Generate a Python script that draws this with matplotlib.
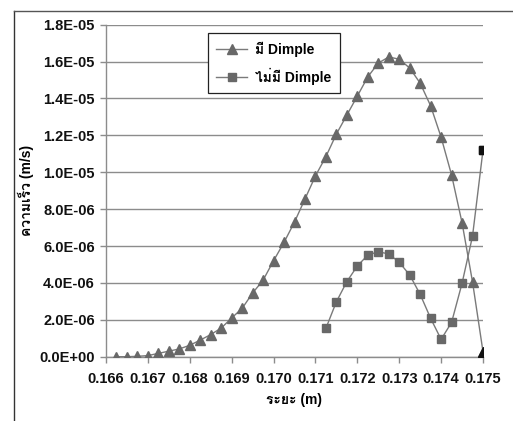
import matplotlib
matplotlib.use("Agg")
import matplotlib.pyplot as plt
from matplotlib import font_manager
from matplotlib.ft2font import FT2Font
from matplotlib.lines import Line2D

# Distance along the channel (m)
x_with = [0.16625, 0.16650, 0.16675, 0.16700, 0.16725, 0.16750, 0.16775, 0.16800,
          0.16825, 0.16850, 0.16875, 0.16900, 0.16925, 0.16950, 0.16975, 0.17000,
          0.17025, 0.17050, 0.17075, 0.17100, 0.17125, 0.17150, 0.17175, 0.17200,
          0.17225, 0.17250, 0.17275, 0.17300, 0.17325, 0.17350, 0.17375, 0.17400,
          0.17425, 0.17450, 0.17475, 0.17500]
# Velocity with dimples (m/s)
y_with = [0.0e-06, 0.0e-06, 0.02e-06, 0.06e-06, 0.18e-06, 0.30e-06, 0.42e-06, 0.62e-06,
          0.90e-06, 1.20e-06, 1.55e-06, 2.10e-06, 2.62e-06, 3.45e-06, 4.15e-06, 5.20e-06,
          6.20e-06, 7.30e-06, 8.55e-06, 9.80e-06, 10.85e-06, 12.07e-06, 13.10e-06, 14.13e-06,
          15.17e-06, 15.92e-06, 16.25e-06, 16.13e-06, 15.65e-06, 14.83e-06, 13.60e-06, 11.90e-06,
          9.85e-06, 7.26e-06, 4.05e-06, 0.27e-06]

x_without = [0.17125, 0.17150, 0.17175, 0.17200, 0.17225, 0.17250, 0.17275, 0.17300,
             0.17325, 0.17350, 0.17375, 0.17400, 0.17425, 0.17450, 0.17475, 0.17500]
# Velocity without dimples (m/s)
y_without = [1.54e-06, 2.98e-06, 4.07e-06, 4.92e-06, 5.51e-06, 5.69e-06, 5.57e-06, 5.12e-06,
             4.43e-06, 3.38e-06, 2.08e-06, 0.94e-06, 1.86e-06, 3.98e-06, 6.54e-06, 11.20e-06]

series_labels = ["มี Dimple", "ไม่มี Dimple"]
x_ticks = [0.166, 0.167, 0.168, 0.169, 0.170, 0.171, 0.172, 0.173, 0.174, 0.175]
x_tick_labels = ["0.166", "0.167", "0.168", "0.169", "0.170", "0.171", "0.172", "0.173", "0.174", "0.175"]
y_ticks = [0.0, 2e-06, 4e-06, 6e-06, 8e-06, 1.0e-05, 1.2e-05, 1.4e-05, 1.6e-05, 1.8e-05]
x_label = "ระยะ (m)"
y_label = "ความเร็ว (m/s)"


def thai_family():
    """Return the name of an installed font that covers Thai, if any."""
    for entry in font_manager.fontManager.ttflist:
        try:
            cmap = FT2Font(entry.fname).get_charmap()
        except Exception:
            continue
        if ord("ม") in cmap and ord("ไ") in cmap:
            return entry.name
    return None


families = ["Liberation Sans"]
thai = thai_family()
if thai:
    families.append(thai)
families.append("DejaVu Sans")
plt.rcParams["font.family"] = families

W, H = 513, 421
fig = plt.figure(figsize=(W / 100, H / 100), dpi=100)
fig.patch.set_facecolor("white")

left, right, top, bottom = 106, 483, 24.7, 356.7
ax = fig.add_axes([left / W, 1 - bottom / H, (right - left) / W, (bottom - top) / H])

line_col = "#7a7a7a"
mark_col = "#686868"
tri_size = 7
sq_size = 6

ax.plot(x_with, y_with, color=line_col, lw=1.0, marker="^", markersize=tri_size,
        markerfacecolor=mark_col, markeredgecolor=mark_col, zorder=3)
ax.plot(x_without, y_without, color=line_col, lw=1.0, marker="s", markersize=sq_size,
        markerfacecolor=mark_col, markeredgecolor=mark_col, zorder=3)
# end points drawn dark
ax.plot(x_with[-1:], y_with[-1:], ls="none", marker="^", markersize=tri_size, color="#111111", zorder=4)
ax.plot(x_without[-1:], y_without[-1:], ls="none", marker="s", markersize=sq_size, color="#111111", zorder=4)

ax.set_xlim(x_ticks[0], x_ticks[-1])
ax.set_ylim(y_ticks[0], y_ticks[-1])
ax.set_xticks(x_ticks)
ax.set_xticklabels(x_tick_labels)
ax.set_yticks(y_ticks)
ax.set_yticklabels(["%.1E" % v for v in y_ticks])

ax.yaxis.grid(True, color="#8c8c8c", lw=1.0)
ax.set_axisbelow(True)
for side in ("top", "right"):
    ax.spines[side].set_visible(False)
for side in ("left", "bottom"):
    ax.spines[side].set_color("#8c8c8c")
    ax.spines[side].set_linewidth(1.0)

ax.tick_params(axis="both", direction="out", length=4, width=1, color="#8c8c8c",
               labelsize=10.5, labelcolor="#111111")
for lab in ax.get_xticklabels() + ax.get_yticklabels():
    lab.set_fontweight("bold")
ax.tick_params(axis="x", pad=7)
ax.tick_params(axis="y", pad=4)

ax.set_xlabel(x_label, fontsize=10, fontweight="bold", labelpad=5)
ax.set_ylabel(y_label, fontsize=10, fontweight="bold", labelpad=4)

handles = [
    Line2D([], [], color=line_col, lw=1.0, marker="^", markersize=tri_size,
           markerfacecolor=mark_col, markeredgecolor=mark_col),
    Line2D([], [], color=line_col, lw=1.0, marker="s", markersize=sq_size,
           markerfacecolor=mark_col, markeredgecolor=mark_col),
]
leg = ax.legend(handles, series_labels, loc="upper left",
                bbox_to_anchor=((208 - left) / (right - left), (bottom - 33) / (bottom - top)),
                frameon=True, fancybox=False, edgecolor="#222222", framealpha=1,
                prop={"size": 10, "weight": "bold"}, handlelength=2.2,
                borderpad=0.6, labelspacing=0.8, handletextpad=0.6, borderaxespad=0)
leg.get_frame().set_linewidth(0.9)

# chart area border
fig.add_artist(Line2D([14 / W, 14 / W], [0, 1 - 11 / H], transform=fig.transFigure,
                      color="#333333", lw=1.0))
fig.add_artist(Line2D([14 / W, 1], [1 - 11 / H, 1 - 11 / H], transform=fig.transFigure,
                      color="#555555", lw=1.0))

fig.savefig("out.png", dpi=100)
